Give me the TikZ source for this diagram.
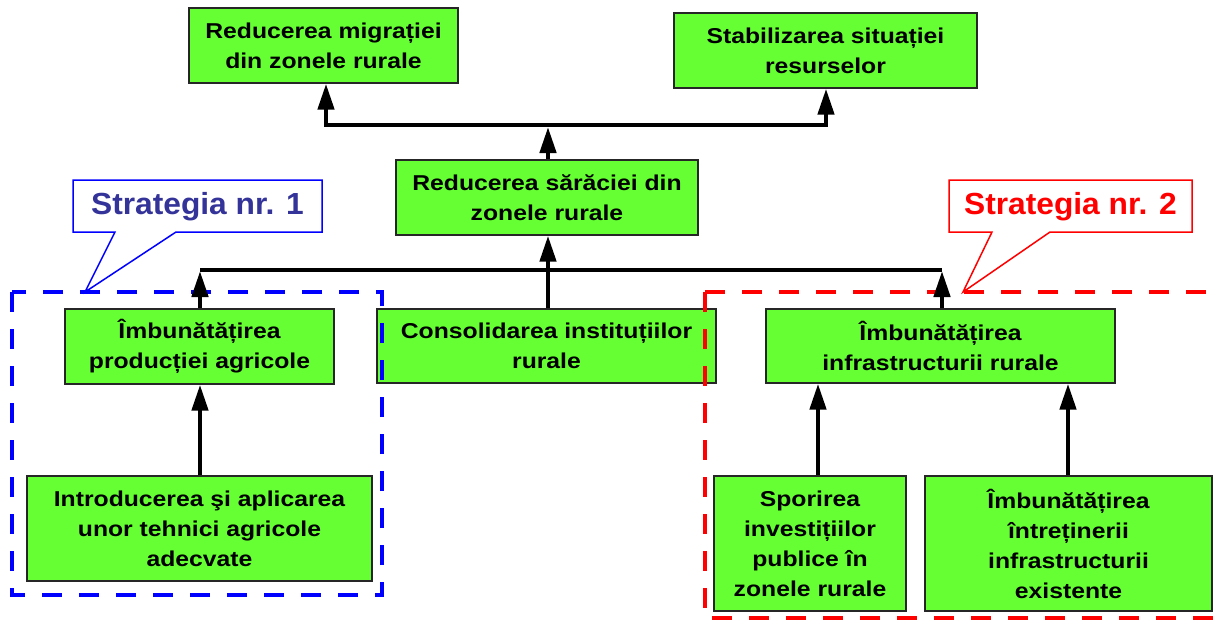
\documentclass[tikz,border=0pt]{standalone}
\usepackage{fontspec}
\setmainfont{Liberation Sans}[FakeStretch=1.15]
\newfontfamily\stratfont{Liberation Sans}[FakeStretch=1.04]
\usetikzlibrary{arrows.meta}
\definecolor{boxgreen}{HTML}{66FF33}
\definecolor{stratblue}{HTML}{333399}
\tikzset{
  box/.style={draw=black!85, line width=1.3pt, fill=boxgreen, align=center, inner sep=0pt,
    font=\fontsize{21.5pt}{30pt}\selectfont\bfseries},
  arr/.style={line width=4.5pt, -{Triangle[length=26pt,width=16pt]}},
  bus/.style={line width=4.5pt},
  stratbox/.style={line width=4.5pt, dash pattern=on 20pt off 17pt},
  callout/.style={line width=1.5pt, fill=white},
  callouttext/.style={font=\fontsize{30.5pt}{34pt}\selectfont\stratfont\bfseries, inner sep=0pt}
}
\begin{document}
\begin{tikzpicture}[x=1pt,y=-1pt]
\useasboundingbox (0,0) rectangle (1218,619);
% boxes
\node[box, minimum width=269pt, minimum height=75pt] (b1) at (323.5,45.5) {Reducerea migrației\\din zonele rurale};
\node[box, minimum width=303pt, minimum height=75pt] (b2) at (825.5,50.5) {Stabilizarea situației\\resurselor};
\node[box, minimum width=302pt, minimum height=75pt] (b3) at (547,197.5) {Reducerea sărăciei din\\zonele rurale};
\node[box, minimum width=339pt, minimum height=74pt] (b4) at (546.5,346) {Consolidarea instituțiilor\\rurale};
\node[box, minimum width=269pt, minimum height=75pt] (b5) at (199.5,346.5) {Îmbunătățirea\\producției agricole};
\node[box, minimum width=349pt, minimum height=74pt] (b6) at (940.5,346) {Îmbunătățirea\\infrastructurii rurale};
\node[box, minimum width=345pt, minimum height=105pt] (b7) at (199.5,528.5) {Introducerea şi aplicarea\\unor tehnici agricole\\adecvate};
\node[box, minimum width=192pt, minimum height=135pt] (b8) at (810,543.5) {Sporirea\\investițiilor\\publice în\\zonele rurale};
\node[box, minimum width=287pt, minimum height=135pt] (b9) at (1068.5,543.5) {Îmbunătățirea\\întreținerii\\infrastructurii\\existente};
% strategy regions
\draw[stratbox, draw=blue] (12,292) rectangle (382,595);
\draw[stratbox, draw=red] (705,292) rectangle (1240,618);
% callouts
\draw[callout, draw=blue] (73,180) -- (322,180) -- (322,232) -- (176,232) -- (85,292) -- (115,232) -- (73,232) -- cycle;
\node[callouttext, text=stratblue] (s1) at (197.5,207) {Strategia nr. 1};
\draw[callout, draw=red] (949,180) -- (1192,180) -- (1192,232) -- (1050,232) -- (963,292) -- (992,232) -- (949,232) -- cycle;
\node[callouttext, text=red] (s2) at (1070.5,207) {Strategia nr. 2};
% bus coordinates
\coordinate (tbL) at (326,125);
\coordinate (tbC) at (548,125);
\coordinate (tbR) at (826,125);
\coordinate (mbL) at (200,270);
\coordinate (mbC) at (548,270);
\coordinate (mbR) at (942,270);
% top level connectors
\draw[arr] (tbC) -| (tbL |- b1.south);
\draw[arr] (tbC) -| (tbR |- b2.south);
\draw[arr] (b3.north -| tbC) -- ([yshift=-2pt]tbC);
% middle level connectors
\draw[bus] (mbL) -- (mbR);
\draw[arr] (b5.north -| mbL) -- ([yshift=-1pt]mbL);
\draw[arr] (b6.north -| mbR) -- ([yshift=-1pt]mbR);
\draw[arr] (b4.north -| mbC) -- (b3.south -| mbC);
% bottom level connectors
\draw[arr] (b7.north -| mbL) -- (b5.south -| mbL);
\coordinate (c8) at (818,0);
\coordinate (c9) at (1068,0);
\draw[arr] (b8.north -| c8) -- (b6.south -| c8);
\draw[arr] (b9.north -| c9) -- (b6.south -| c9);
\end{tikzpicture}
\end{document}
